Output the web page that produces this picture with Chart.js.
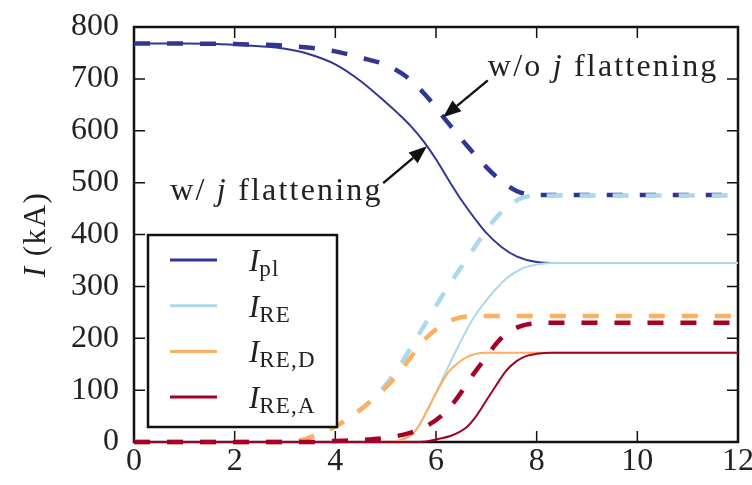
<!DOCTYPE html>
<html>
<head>
<meta charset="utf-8">
<script src="https://cdn.jsdelivr.net/npm/chart.js@4.4.1/dist/chart.umd.min.js"></script>
<style>
html, body { margin: 0; padding: 0; background: #fff; }
</style>
</head>
<body>
<canvas id="current_chart" width="752" height="485"></canvas>
<script>
const serif = '"Liberation Serif", "DejaVu Serif", serif';

// colours (RdYlBu)
const c_pl   = '#313695';
const c_re   = '#abd9e9';
const c_re_d = '#fdae61';
const c_re_a = '#a50026';

// time (ms) / current (kA), with j flattening (solid)
const t_pl_w = [0, 1, 2, 2.5, 3, 3.5, 4, 4.5, 5, 5.25, 5.5, 5.75, 6, 6.25, 6.5, 6.8, 7, 7.3, 7.6, 8, 8.4, 9, 10, 11, 12];
const i_pl_w = [768, 768, 766, 763, 758, 747, 728, 696, 655, 633, 609, 580, 545, 505, 467, 427, 403, 376, 358, 347, 345, 345, 345, 345, 345];

const t_re_w = [0, 5.0, 5.3, 5.55, 5.7, 5.82, 6.0, 6.18, 6.44, 6.75, 7.04, 7.37, 7.7, 8.0, 8.3, 12];
const i_re_w = [0, 0, 4, 17, 38, 60, 95, 132, 184, 240, 278, 313, 334, 342, 345, 345];

const t_re_d_w = [0, 5.0, 5.3, 5.55, 5.7, 5.82, 5.95, 6.08, 6.25, 6.41, 6.6, 6.8, 7.0, 12];
const i_re_d_w = [0, 0, 4, 17, 38, 60, 85, 108, 135, 150, 163, 170, 172, 172];

const t_re_a_w = [0, 5.5, 5.8, 6.0, 6.3, 6.6, 6.8, 7.0, 7.2, 7.4, 7.6, 7.8, 8.0, 8.3, 12];
const i_re_a_w = [0, 0, 1, 5, 12, 28, 50, 80, 110, 138, 156, 166, 170, 172, 172];

// without j flattening (dashed)
const t_pl_wo = [0, 1, 2, 3, 3.5, 4, 4.5, 5, 5.4, 5.8, 6.2, 6.6, 7, 7.3, 7.6, 7.8, 8, 9, 10, 11, 12];
const i_pl_wo = [768, 768, 767, 764, 760, 753, 741, 727, 705, 668, 620, 573, 530, 503, 484, 478, 476, 476, 476, 476, 476];

const t_re_wo = [0, 3.0, 3.3, 3.5, 4.0, 4.5, 4.75, 5.0, 5.3, 5.55, 5.85, 6.1, 6.31, 6.58, 6.94, 7.2, 7.47, 7.7, 8.0, 12];
const i_re_wo = [0, 0, 3, 9, 30, 63, 84, 110, 150, 190, 238, 278, 310, 348, 400, 433, 457, 470, 475, 475];

const t_re_d_wo = [0, 3.0, 3.3, 3.5, 4.0, 4.5, 5.0, 5.3, 5.55, 5.8, 6.1, 6.4, 6.7, 12];
const i_re_d_wo = [0, 0, 3, 9, 30, 62, 105, 138, 170, 200, 224, 238, 243, 243];

const t_re_a_wo = [0, 3.5, 4.0, 4.5, 5.0, 5.5, 5.8, 6.1, 6.4, 6.7, 7.0, 7.2, 7.4, 7.7, 8.0, 8.3, 12];
const i_re_a_wo = [0, 0, 2, 4, 8, 18, 30, 50, 82, 125, 164, 190, 209, 224, 229, 230, 230];

const x_ticks = [0, 2, 4, 6, 8, 10, 12];
const y_ticks = [0, 100, 200, 300, 400, 500, 600, 700, 800];

const legend_subs = ['pl', 'RE', 'RE,D', 'RE,A'];

// annotation text (baseline-left) and arrows, in data units
const note_wo_at  = [7.03, 705];
const note_w_at   = [0.72, 466];
const arrow_wo    = [7.03, 697, 6.14, 626];
const arrow_w     = [4.95, 499, 5.82, 570];

function pts(ts, is) {
    return ts.map((t, k) => ({ x: t, y: is[k] }));
}

function make_set(label, ts, is, color, dashed) {
    return {
        label: label,
        data: pts(ts, is),
        borderColor: color,
        backgroundColor: color,
        borderWidth: dashed ? 4.5 : 2,
        borderDash: dashed ? [16, 17] : [],
        pointRadius: 0,
        fill: false,
        cubicInterpolationMode: 'monotone',
        clip: false,
        dashed: dashed
    };
}

let sets = [
    make_set('pl',   t_pl_w,    i_pl_w,    c_pl,   false),
    make_set('RE',   t_re_w,    i_re_w,    c_re,   false),
    make_set('RE,D', t_re_d_w,  i_re_d_w,  c_re_d, false),
    make_set('RE,A', t_re_a_w,  i_re_a_w,  c_re_a, false),
    make_set('pl',   t_pl_wo,   i_pl_wo,   c_pl,   true),
    make_set('RE',   t_re_wo,   i_re_wo,   c_re,   true),
    make_set('RE,D', t_re_d_wo, i_re_d_wo, c_re_d, true),
    make_set('RE,A', t_re_a_wo, i_re_a_wo, c_re_a, true)
];
// later sets drawn on top
sets.forEach((s, k) => { s.order = sets.length - k; });

function set_font(ctx, r) {
    ctx.font = (r.italic ? 'italic ' : '') + r.size + 'px ' + serif;
    ctx.letterSpacing = (r.sp || 0) + 'px';
}

function draw_runs(ctx, runs, x, y) {
    runs.forEach(r => {
        set_font(ctx, r);
        ctx.fillText(r.text, x, y + (r.dy || 0));
        x += ctx.measureText(r.text).width;
    });
    ctx.letterSpacing = '0px';
    return x;
}

function runs_width(ctx, runs) {
    let w = 0;
    runs.forEach(r => {
        set_font(ctx, r);
        w += ctx.measureText(r.text).width;
    });
    ctx.letterSpacing = '0px';
    return w;
}

function draw_arrow(ctx, x0, y0, x1, y1) {
    const ang = Math.atan2(y1 - y0, x1 - x0);
    const hl = 18, hw = 7;
    const bx = x1 - hl * Math.cos(ang), by = y1 - hl * Math.sin(ang);
    ctx.beginPath();
    ctx.moveTo(x0, y0);
    ctx.lineTo(bx, by);
    ctx.lineWidth = 2.4;
    ctx.stroke();
    ctx.beginPath();
    ctx.moveTo(x1, y1);
    ctx.lineTo(bx + hw * Math.sin(ang), by - hw * Math.cos(ang));
    ctx.lineTo(bx - hw * Math.sin(ang), by + hw * Math.cos(ang));
    ctx.closePath();
    ctx.fill();
}

const frame_plugin = {
    id: 'frame_plugin',
    beforeDatasetsDraw(chart) {
        const ctx = chart.ctx, a = chart.chartArea;
        const xs = chart.scales.x, ys = chart.scales.y;
        ctx.save();
        ctx.strokeStyle = '#111';
        ctx.lineWidth = 2.5;
        ctx.strokeRect(a.left, a.top, a.right - a.left, a.bottom - a.top);
        ctx.lineWidth = 1.5;
        ctx.beginPath();
        x_ticks.forEach(v => {
            const p = xs.getPixelForValue(v);
            ctx.moveTo(p, a.bottom); ctx.lineTo(p, a.bottom - 11);
            ctx.moveTo(p, a.top);    ctx.lineTo(p, a.top + 11);
        });
        y_ticks.forEach(v => {
            const p = ys.getPixelForValue(v);
            ctx.moveTo(a.left, p);  ctx.lineTo(a.left + 11, p);
            ctx.moveTo(a.right, p); ctx.lineTo(a.right - 11, p);
        });
        ctx.stroke();
        ctx.restore();
    },
    afterDatasetsDraw(chart) {
        const ctx = chart.ctx, a = chart.chartArea;
        const xs = chart.scales.x, ys = chart.scales.y;
        const X = v => xs.getPixelForValue(v), Y = v => ys.getPixelForValue(v);
        ctx.save();
        ctx.fillStyle = '#222';
        ctx.strokeStyle = '#111';
        ctx.textBaseline = 'alphabetic';
        ctx.textAlign = 'left';

        // notes and arrows
        draw_runs(ctx, [
            { text: 'w/o ', size: 32, sp: 2.2 },
            { text: 'j', size: 32, italic: true, sp: 2.2 },
            { text: ' flattening', size: 32, sp: 2.2 }
        ], X(note_wo_at[0]), Y(note_wo_at[1]));
        draw_runs(ctx, [
            { text: 'w/ ', size: 32, sp: 2.2 },
            { text: 'j', size: 32, italic: true, sp: 2.2 },
            { text: ' flattening', size: 32, sp: 2.2 }
        ], X(note_w_at[0]), Y(note_w_at[1]));
        ctx.fillStyle = '#111';
        draw_arrow(ctx, X(arrow_wo[0]), Y(arrow_wo[1]), X(arrow_wo[2]), Y(arrow_wo[3]));
        draw_arrow(ctx, X(arrow_w[0]), Y(arrow_w[1]), X(arrow_w[2]), Y(arrow_w[3]));

        // legend box, solid curves only
        const bx = a.left + 14, by = a.bottom - 207, bw = 189, bh = 192;
        ctx.fillStyle = '#fff';
        ctx.fillRect(bx, by, bw, bh);
        ctx.lineWidth = 2.5;
        ctx.strokeRect(bx, by, bw, bh);
        const solid = chart.data.datasets.filter(d => !d.dashed);
        solid.forEach((d, k) => {
            const cy = by + 25 + k * 45.7;
            ctx.strokeStyle = d.borderColor;
            ctx.lineWidth = 3;
            ctx.beginPath();
            ctx.moveTo(bx + 22, cy);
            ctx.lineTo(bx + 69, cy);
            ctx.stroke();
            ctx.fillStyle = '#222';
            draw_runs(ctx, [
                { text: 'I', size: 31, italic: true },
                { text: legend_subs[k], size: 23, dy: 5, sp: 1.2 }
            ], bx + 101, cy + 11);
        });

        // y axis title
        const title = [
            { text: 'I', size: 31, italic: true, sp: 1.5 },
            { text: ' (kA)', size: 31, sp: 1.5 }
        ];
        const tw = runs_width(ctx, title);
        ctx.translate(45, (a.top + a.bottom) / 2);
        ctx.rotate(-Math.PI / 2);
        ctx.fillStyle = '#222';
        draw_runs(ctx, title, -tw / 2, 0);
        ctx.restore();
    }
};

const current_chart = new Chart(document.getElementById('current_chart'), {
    type: 'line',
    data: { datasets: sets },
    options: {
        responsive: false,
        animation: false,
        layout: { padding: { left: 0, right: 14, top: 27, bottom: 0 } },
        plugins: {
            legend: { display: false },
            tooltip: { enabled: false }
        },
        scales: {
            x: {
                type: 'linear',
                min: 0,
                max: 12,
                afterBuildTicks: s => { s.ticks = x_ticks.map(v => ({ value: v })); },
                afterFit: s => { s.height = 43; s.paddingLeft = 0; s.paddingRight = 0; },
                grid: { display: false, drawTicks: false },
                border: { display: false },
                ticks: { color: '#222', font: { family: serif, size: 32 }, padding: 0, maxRotation: 0 }
            },
            y: {
                min: 0,
                max: 800,
                afterBuildTicks: s => { s.ticks = y_ticks.map(v => ({ value: v })); },
                afterFit: s => { s.width = 134; s.paddingTop = 0; s.paddingBottom = 0; },
                grid: { display: false, drawTicks: false },
                border: { display: false },
                ticks: { color: '#222', font: { family: serif, size: 32 }, padding: 15 }
            }
        }
    },
    plugins: [frame_plugin]
});
</script>
</body>
</html>
